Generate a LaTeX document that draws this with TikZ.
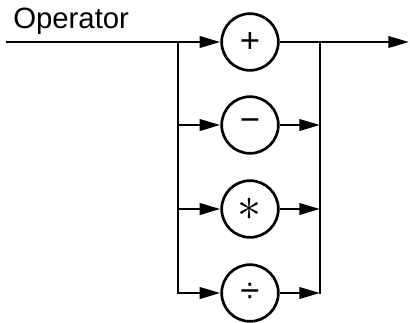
\documentclass[tikz,border=0pt]{standalone}
\usepackage{fontspec}
\setmainfont{Liberation Sans}
\usetikzlibrary{arrows.meta}
\begin{document}
\begin{tikzpicture}[x=0.75pt,y=-0.75pt,
  big/.style={font=\fontsize{22}{26}\selectfont},
  op/.style={circle,draw,line width=2pt,minimum size=42.5pt,inner sep=0pt,font=\fontsize{26}{30}\selectfont},
  conn/.style={line width=2pt},
  arr/.style={conn,-{Triangle[length=15.5pt,width=8.5pt]}}]
\useasboundingbox (0,0) rectangle (410,322);
\node[anchor=base west,inner sep=0pt,big] (lbl) at (13,28) {Operator};
\node[op] (c1) at (250,42) {+};
\node[op] (c2) at (250,125) {−};
\node[op] (c3) at (250,209) {\scalebox{1.45}{$\ast$}};
\node[op] (c4) at (250,293) {÷};
\coordinate (in) at (6,42);
\coordinate (out) at (409,42);
\coordinate (L1) at (178,42);
\coordinate (L2) at (178,125);
\coordinate (L3) at (178,209);
\coordinate (R1) at (320,42);
\coordinate (R2) at (320,125);
\coordinate (R3) at (320,209);
\coordinate (R4) at (320,293);
\draw[arr] (in) -- (c1);
\draw[arr] (c1) -- (out);
\draw[arr] (L1) |- (c4);
\draw[arr] (L2) -- (c2);
\draw[arr] (L3) -- (c3);
\draw[conn,line cap=rect] (R1) -- (R4);
\draw[arr] (c2) -- (R2);
\draw[arr] (c3) -- (R3);
\draw[arr] (c4) -- (R4);
\end{tikzpicture}
\end{document}
